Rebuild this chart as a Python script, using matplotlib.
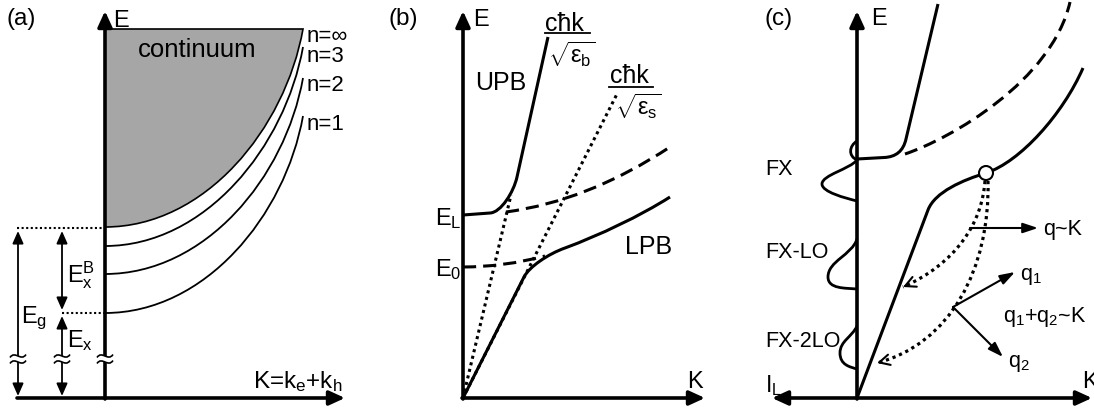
import matplotlib.pyplot as plt
from matplotlib.path import Path
from matplotlib.patches import PathPatch, Circle, Rectangle

plt.rcParams['font.family'] = ['Liberation Sans', 'DejaVu Sans']
plt.rcParams['mathtext.fontset'] = 'custom'
plt.rcParams['mathtext.rm'] = 'Liberation Sans'
plt.rcParams['mathtext.it'] = 'Liberation Sans'
plt.rcParams['mathtext.default'] = 'regular'

# ---- schematic data, canvas units (1 unit = 1 px, y grows downward) ----
# (a) hydrogen-like exciton series: energy at K=0 and at the right end
a_names = ['n=∞', 'n=3', 'n=2', 'n=1']
a_e0 = [228, 247, 275, 314]
a_e1 = [30, 48, 79, 117]
a_label_y = [42, 62, 91, 130]

# (b) polariton branches
b_EL, b_E0 = 216, 268
b_upb = [(463, b_EL), (490, 214), (501, 213.5), (513.7, 193), (517, 178), (548, 38)]
b_lpb = [(463, 399), (524, 278), (529, 268), (548, 255), (565, 249),
         (600, 236), (640, 217), (670, 198)]
b_exc_L = [(506, 213), (588, 202), (670, 148)]
b_exc_0 = [(463, b_E0), (504, b_E0), (545, 257)]
b_light_b = [(463, 399), (511, 196)]
b_light_s = [(463, 399), (617, 95)]

# (c) polariton relaxation and PL spectrum
c_upb = [(857, 160), (884, 158.5), (896, 158), (903.3, 152), (906, 140), (938, 5)]
c_exc = [(905, 155), (950, 140), (1052, 82), (1070, 3)]
c_lpb = [(857, 399), (928, 211), (934.8, 193), (963, 181), (986, 174),
         (1020, 163), (1063, 115), (1083, 69)]
c_bottleneck = (986, 174)
c_scatter_1 = [(985, 182), (982, 225), (955, 265), (903, 288)]
c_scatter_2 = [(988, 182), (990, 270), (950, 345), (877, 364)]
c_fx = [(857, 142), (849, 147), (848, 157), (857, 161), (850, 170), (822, 176),
        (822, 185), (822, 193), (845, 199), (857, 202)]
c_fx_lo = [(857, 240), (852, 256), (828, 262), (828, 278), (828, 290), (845, 289), (857, 290)]
c_fx_2lo = [(857, 327), (852, 338), (840, 342), (840, 354), (840, 366), (850, 368), (857, 370)]

M, L, C3, C4 = Path.MOVETO, Path.LINETO, Path.CURVE3, Path.CURVE4

fig = plt.figure(figsize=(10.94, 4.10), dpi=100)
ax = fig.add_axes([0, 0, 1, 1])
ax.set_xlim(0, 1094)
ax.set_ylim(410, 0)
ax.axis('off')

AX_LW = 2.6
LW = 2.2
DASH = (0, (4.3, 2.3))
DOT = (0, (1.0, 1.2))


def draw(verts, codes, lw=LW, ls='-', z=3):
    ax.add_patch(PathPatch(Path(verts, codes), fill=False, lw=lw, ls=ls,
                           ec='k', capstyle='butt', zorder=z))


def arrow(p0, p1, style='-|>', lw=AX_LW, hl=0.94, hw=0.43, z=5):
    ax.annotate('', xy=p1, xytext=p0,
                arrowprops=dict(arrowstyle=f'{style},head_length={hl},head_width={hw}',
                                lw=lw, color='k', shrinkA=0, shrinkB=0,
                                mutation_scale=10), zorder=z)


def open_head(pts):
    # small solid "V" head at the end of a dotted curve
    (x2, y2), (x3, y3) = pts[-2], pts[-1]
    start = (x3 + 0.06 * (x2 - x3), y3 + 0.06 * (y2 - y3))
    ax.annotate('', xy=(x3, y3), xytext=start,
                arrowprops=dict(arrowstyle='->,head_length=0.75,head_width=0.38',
                                lw=1.5, color='k', shrinkA=0, shrinkB=0,
                                mutation_scale=10), zorder=4)


def axis_break(x, y=360):
    ax.add_patch(Rectangle((x - 9, y - 3), 18, 6, fc='white', ec='none', zorder=8))
    for dy in (-3, 3):
        yy = y + dy
        draw([(x - 8, yy + 1.5), (x - 3, yy - 6), (x + 3, yy + 6), (x + 8, yy - 1.5)],
             [M, C4, C4, C4], lw=1.2, z=9)


def txt(x, y, s, size=17.5, **kw):
    ax.text(x, y, s, fontsize=size, ha='left', va='baseline', **kw)


# ================= panel (a) =================
x0a, xr = 105, 303
cont = [(x0a, a_e1[0]), (xr, a_e1[0]), (285, a_e1[0] + 100), (205, a_e0[0]), (x0a, a_e0[0])]
ax.add_patch(PathPatch(Path(cont + [(x0a, a_e1[0])], [M, L, C4, C4, C4, Path.CLOSEPOLY]),
                       fc='#a6a6a6', ec='k', lw=1.2, zorder=2))
for e0, e1 in zip(a_e0[1:], a_e1[1:]):
    draw([(x0a, e0), (205, e0), (285, e1 + 100), (xr, e1)], [M, C4, C4, C4], lw=1.3)
for name, yl in zip(a_names, a_label_y):
    txt(307, yl, name, size=16)
txt(138, 57, 'continuum', size=18.5)

ax.plot([17, x0a], [a_e0[0] + 1, a_e0[0] + 1], color='k', lw=1.5, ls=(0, (1, 1.2)), zorder=3)
ax.plot([62, x0a], [a_e0[-1], a_e0[-1]], color='k', lw=1.5, ls=(0, (1, 1.2)), zorder=3)

arrow((18, 397), (18, 232), style='<|-|>', lw=1.3, hl=0.75, hw=0.33)
arrow((62, 311), (62, 232), style='<|-|>', lw=1.3, hl=0.75, hw=0.33)
arrow((62, 397), (62, 317), style='<|-|>', lw=1.3, hl=0.75, hw=0.33)

arrow((x0a, 400), (x0a, 12))
arrow((17, 399), (345, 399))
for xb in (18, 62, x0a):
    axis_break(xb)

txt(7, 25, '(a)', size=17.5)
txt(113, 27, 'E', size=17)
txt(21, 323, 'E$_g$', size=17)
txt(67, 282, 'E$_x^B$', size=17)
txt(67, 347, 'E$_x$', size=17)
txt(253, 388, 'K=k$_e$+k$_h$', size=17.5)

# ================= panel (b) =================
draw(b_light_b, [M, L], lw=2.2, ls=DOT)
draw(b_light_s, [M, L], lw=2.2, ls=DOT)
draw(b_exc_L, [M, C3, C3], ls=DASH)
draw(b_exc_0, [M, C3, C3], ls=DASH)
draw(b_upb, [M, L, C4, C4, C4, L])
draw(b_lpb, [M, L, C4, C4, C4, C4, C4, C4])

arrow((463, 400), (463, 12))
arrow((462, 399), (705, 399))

txt(388, 25, '(b)', size=17.5)
txt(473, 26, 'E', size=17)
txt(435, 225, 'E$_L$', size=17)
txt(435, 276, 'E$_0$', size=17)
txt(475, 90, 'UPB', size=18)
txt(625, 254, 'LPB', size=18)
txt(687, 388, 'K', size=17)

txt(545, 31, 'cħk', size=18)
ax.plot([545, 590], [34, 34], color='k', lw=1.3)
txt(548, 63, r'$\sqrt{\varepsilon_b}$', size=17)
txt(610, 83, 'cħk', size=18)
ax.plot([609, 653], [88, 88], color='k', lw=1.3)
txt(615, 115, r'$\sqrt{\varepsilon_s}$', size=17)

# ================= panel (c) =================
draw(c_exc, [M, C4, C4, C4], ls=DASH)
draw(c_upb, [M, L, C4, C4, C4, L])
draw(c_lpb, [M, L, C4, C4, C4, C4, C4, C4])
ax.add_patch(Circle(c_bottleneck, 7, fc='white', ec='k', lw=1.5, zorder=6))

draw(c_scatter_1, [M, C4, C4, C4], lw=2.3, ls=DOT)
draw(c_scatter_2, [M, C4, C4, C4], lw=2.3, ls=DOT)
open_head(c_scatter_1)
open_head(c_scatter_2)

arrow((970, 229), (1038, 229), lw=1.5, hl=0.9, hw=0.3)
arrow((953, 308), (1015, 273), lw=1.5, hl=0.9, hw=0.3)
arrow((953, 308), (1003, 358), lw=1.5, hl=0.9, hw=0.3)

draw(c_fx, [M, C4, C4, C4, C4, C4, C4, C4, C4, C4], lw=2.0)
draw(c_fx_lo, [M, C4, C4, C4, C4, C4, C4], lw=2.0)
draw(c_fx_2lo, [M, C4, C4, C4, C4, C4, C4], lw=2.0)

arrow((857, 400), (857, 12))
arrow((772, 399), (1092, 399), style='<|-|>')

txt(765, 25, '(c)', size=17.5)
txt(871, 25, 'E', size=17)
txt(765, 175, 'FX', size=15.5)
txt(765, 258, 'FX-LO', size=15.5)
txt(765, 347, 'FX-2LO', size=15.5)
txt(765, 392, 'I$_L$', size=16.5)
txt(1082, 388, 'K', size=17)
txt(1043, 235, 'q~K', size=15.5)
txt(1020, 280, 'q$_1$', size=15.5)
txt(1003, 322, 'q$_1$+q$_2$~K', size=15.5)
txt(1008, 367, 'q$_2$', size=15.5)

fig.savefig('out.png', dpi=100)
